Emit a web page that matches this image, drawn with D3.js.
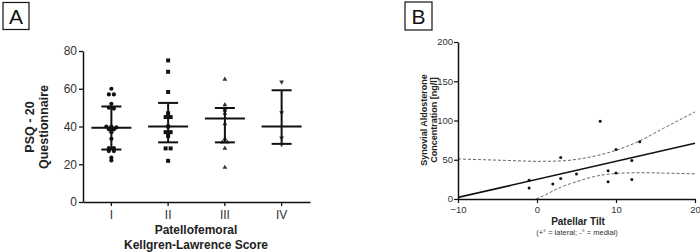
<!DOCTYPE html>
<html><head><meta charset="utf-8">
<script src="https://cdn.jsdelivr.net/npm/d3@7"></script>
<style>
html,body{margin:0;padding:0;background:#fff;}
svg{display:block;font-family:"Liberation Sans",Arial,sans-serif;}
</style></head>
<body><svg id="c" width="700" height="252"></svg>
<script>
// ---------- Panel A data ----------
const categoriesA = ["I", "II", "III", "IV"];
const groupI   = [60, 57, 57, 52, 50, 49.5, 40, 40, 39.5, 38.5, 38.5, 37, 33.5, 28.5, 28.5, 27, 27, 23.5, 22];
const groupII  = [75, 69, 58.3, 47, 45, 45, 40, 37, 37, 35, 28.4, 28.4, 21.8];
const groupIII = [65, 51.5, 49.3, 48.5, 46.9, 41.4, 33.5, 31.7, 31.7, 28.4, 18.3];
const groupIV  = [63.6, 47.4, 34, 30.5];
const meansA   = [39.3, 40, 44.2, 40];
const sdLowA   = [27.8, 31.6, 31.6, 30.8];
const sdHighA  = [50.6, 52.5, 49.8, 59.2];
const yTicksA  = [0, 20, 40, 60, 80];

// ---------- Panel B data ----------
const tiltX = [-1, -1, 2, 3, 3, 5, 8, 9, 9, 10, 10, 12, 12, 13];
const aldoY = [24, 14, 19, 53, 26, 32, 99, 36, 22, 63, 33, 49, 25, 73];
const fitX  = [-10, 20];
const fitY  = [2, 71];
const upperBandX = [-10, -5, -2, 0, 3, 5, 7, 10, 13, 16, 20];
const upperBandY = [51, 49.5, 48.5, 48, 48.5, 50.5, 54, 62, 74, 90, 111];
const lowerBandX = [-0.1, 1, 3, 5, 7, 10, 13, 16, 20];
const lowerBandY = [0, 5, 15, 22, 28, 32.5, 33.5, 33, 32];
const xTicksB = [-10, 0, 10, 20];
const yTicksB = [0, 50, 100, 150, 200];

const svg = d3.select("#c");

// ================= Panel A =================
const xA = d3.scaleBand().domain(categoriesA).range([83, 310]);
const yA = d3.scaleLinear().domain([0, 80]).range([202, 51]);

const gA = svg.append("g");
const axA_y = gA.append("g").attr("transform", "translate(83,0)")
  .call(d3.axisLeft(yA).tickValues(yTicksA).tickSize(4).tickSizeOuter(0).tickPadding(2));
const axA_x = gA.append("g").attr("transform", "translate(0,202)")
  .call(d3.axisBottom(xA).tickSize(4).tickSizeOuter(0).tickPadding(4));
[axA_y, axA_x].forEach(a => {
  a.select(".domain").attr("stroke", "#111").attr("stroke-width", 1.5);
  a.selectAll(".tick line").attr("stroke", "#111").attr("stroke-width", 1.3);
  a.selectAll("text").attr("font-size", 12).attr("fill", "#333")
    .attr("font-family", "Liberation Sans, Arial, sans-serif");
});

// beeswarm-like offsets
function swarm(vals, spacing) {
  const sorted = vals.map((v, i) => ({v, i})).sort((a, b) => b.v - a.v);
  const out = new Array(vals.length).fill(0);
  let cluster = [];
  const flush = () => {
    const n = cluster.length;
    cluster.forEach((c, k) => out[c.i] = (k - (n - 1) / 2) * spacing);
    cluster = [];
  };
  sorted.forEach(d => {
    if (cluster.length && Math.abs(cluster[cluster.length - 1].v - d.v) > 0.6) flush();
    cluster.push(d);
  });
  flush();
  return out;
}

const groups = [groupI, groupII, groupIII, groupIV];
const symbols = [
  d3.symbol().type(d3.symbolCircle).size(14),
  d3.symbol().type(d3.symbolSquare).size(16),
  d3.symbol().type(d3.symbolTriangle).size(10),
  d3.symbol().type(d3.symbolTriangle).size(10)
];
const symColor = ["#111", "#111", "#333", "#333"];

groups.forEach((vals, gi) => {
  const cx = xA(categoriesA[gi]) + xA.bandwidth() / 2;
  const offs = swarm(vals, 5);
  gA.append("g").selectAll("path").data(vals).join("path")
    .attr("d", symbols[gi])
    .attr("fill", symColor[gi])
    .attr("transform", (d, i) => `translate(${cx + offs[i]},${yA(d)})${gi === 3 ? " rotate(180)" : ""}`);
});

// mean & SD
categoriesA.forEach((c, gi) => {
  const cx = xA(c) + xA.bandwidth() / 2;
  const g = gA.append("g").attr("stroke", "#111").attr("stroke-width", 2);
  g.append("line").attr("x1", cx).attr("x2", cx).attr("y1", yA(sdLowA[gi])).attr("y2", yA(sdHighA[gi]));
  g.append("line").attr("x1", cx - 10).attr("x2", cx + 10).attr("y1", yA(sdLowA[gi])).attr("y2", yA(sdLowA[gi]));
  g.append("line").attr("x1", cx - 10).attr("x2", cx + 10).attr("y1", yA(sdHighA[gi])).attr("y2", yA(sdHighA[gi]));
  g.append("line").attr("x1", cx - 20).attr("x2", cx + 20).attr("y1", yA(meansA[gi])).attr("y2", yA(meansA[gi]));
});

// labels A
gA.append("text").attr("transform", "translate(34,127) rotate(-90)").attr("text-anchor", "middle")
  .attr("font-weight", "bold").attr("font-size", 12.5).attr("fill", "#222").text("PSQ - 20");
gA.append("text").attr("transform", "translate(48,127) rotate(-90)").attr("text-anchor", "middle")
  .attr("font-weight", "bold").attr("font-size", 12.5).attr("fill", "#222").text("Questionnaire");
gA.append("text").attr("x", 196).attr("y", 234).attr("text-anchor", "middle")
  .attr("font-weight", "bold").attr("font-size", 12).attr("fill", "#222").text("Patellofemoral");
gA.append("text").attr("x", 196).attr("y", 249).attr("text-anchor", "middle")
  .attr("font-weight", "bold").attr("font-size", 12).attr("fill", "#222").text("Kellgren-Lawrence Score");

// panel letter A
svg.append("rect").attr("x", 3).attr("y", 2.5).attr("width", 26).attr("height", 27)
  .attr("fill", "none").attr("stroke", "#111").attr("stroke-width", 1.2);
svg.append("text").attr("x", 16).attr("y", 24).attr("text-anchor", "middle")
  .attr("font-size", 21).attr("fill", "#111").text("A");

// ================= Panel B =================
const xB = d3.scaleLinear().domain([-10, 20]).range([458, 695]);
const yB = d3.scaleLinear().domain([0, 200]).range([199, 42]);
const gB = svg.append("g");

gB.append("clipPath").attr("id", "clipB").append("rect")
  .attr("x", 458).attr("y", 30).attr("width", 242).attr("height", 169);

const lineB = d3.line().x(d => xB(d[0])).y(d => yB(d[1]));
const plotB = gB.append("g").attr("clip-path", "url(#clipB)");
plotB.append("path").datum(upperBandX.map((x, i) => [x, upperBandY[i]]))
  .attr("d", lineB.curve(d3.curveMonotoneX)).attr("fill", "none")
  .attr("stroke", "#666").attr("stroke-width", 1).attr("stroke-dasharray", "3,2");
plotB.append("path").datum(lowerBandX.map((x, i) => [x, lowerBandY[i]]))
  .attr("d", lineB.curve(d3.curveMonotoneX)).attr("fill", "none")
  .attr("stroke", "#666").attr("stroke-width", 1).attr("stroke-dasharray", "3,2");
plotB.append("path").datum(fitX.map((x, i) => [x, fitY[i]]))
  .attr("d", d3.line().x(d => xB(d[0])).y(d => yB(d[1]))).attr("fill", "none")
  .attr("stroke", "#111").attr("stroke-width", 1.6);

gB.append("g").selectAll("circle").data(tiltX).join("circle")
  .attr("cx", d => xB(d)).attr("cy", (d, i) => yB(aldoY[i])).attr("r", 1.5).attr("fill", "#111");

const axB_y = gB.append("g").attr("transform", "translate(458,0)")
  .call(d3.axisLeft(yB).tickValues(yTicksB).tickSize(4).tickSizeOuter(0).tickPadding(1));
const axB_x = gB.append("g").attr("transform", "translate(0,199)")
  .call(d3.axisBottom(xB).tickValues(xTicksB).tickSize(4).tickSizeOuter(0).tickPadding(3));
[axB_y, axB_x].forEach(a => {
  a.select(".domain").attr("stroke", "#111").attr("stroke-width", 1.5);
  a.selectAll(".tick line").attr("stroke", "#111").attr("stroke-width", 1.2);
  a.selectAll("text").attr("font-size", 9.5).attr("fill", "#333")
    .attr("font-family", "Liberation Sans, Arial, sans-serif");
});
axB_y.selectAll(".tick text").attr("dy", "0.3em");

gB.append("text").attr("transform", "translate(427,120) rotate(-90)").attr("text-anchor", "middle")
  .attr("font-weight", "bold").attr("font-size", 9).attr("fill", "#222").text("Synovial Aldosterone");
gB.append("text").attr("transform", "translate(437,120) rotate(-90)").attr("text-anchor", "middle")
  .attr("font-weight", "bold").attr("font-size", 9).attr("fill", "#222").text("Concentration [ng/l]");
gB.append("text").attr("x", 578).attr("y", 225).attr("text-anchor", "middle")
  .attr("font-weight", "bold").attr("font-size", 10).attr("fill", "#222").text("Patellar Tilt");
gB.append("text").attr("x", 577).attr("y", 235).attr("text-anchor", "middle")
  .attr("font-size", 7.5).attr("fill", "#333").text("(+° = lateral; -° = medial)");

svg.append("rect").attr("x", 405).attr("y", 2).attr("width", 27).attr("height", 28)
  .attr("fill", "none").attr("stroke", "#111").attr("stroke-width", 1.2);
svg.append("text").attr("x", 418.5).attr("y", 24).attr("text-anchor", "middle")
  .attr("font-size", 21).attr("fill", "#111").text("B");
</script></body></html>
